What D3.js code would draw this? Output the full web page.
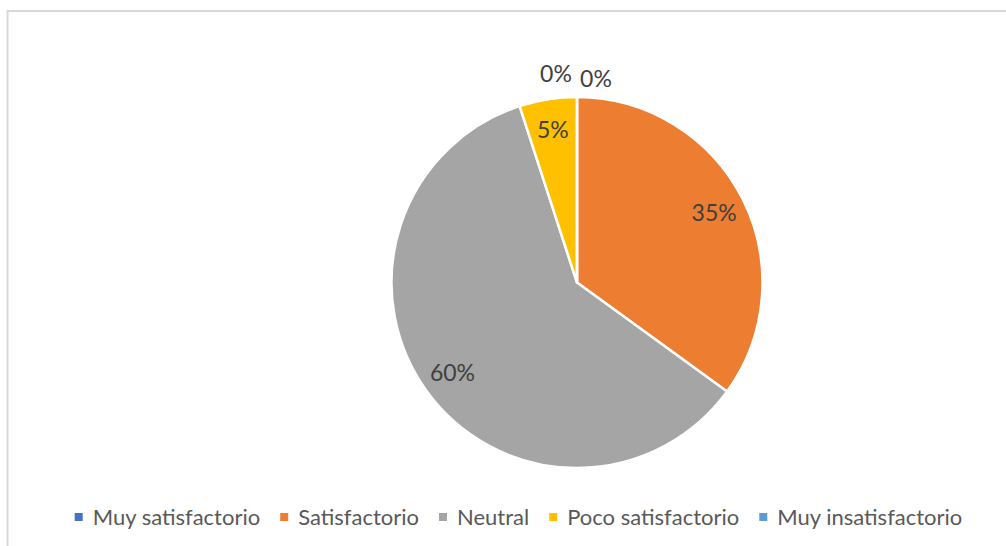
<!DOCTYPE html>
<html>
<head>
    <meta charset="UTF-8">
    <title></title>
    <style>
        body { margin: 0; background: #fff; }
        text { font-family: Lato, "Liberation Sans", sans-serif; }
    </style>
</head>
<body>
<div id="chart"></div>
<script src="https://cdn.jsdelivr.net/npm/d3@7"></script>
<script>
    var categories = ["Muy satisfactorio", "Satisfactorio", "Neutral", "Poco satisfactorio", "Muy insatisfactorio"];
    var values = [0, 35, 60, 5, 0];
    var labels = ["0%", "35%", "60%", "5%", "0%"];
    var colors = ["#4472C4", "#ED7D31", "#A5A5A5", "#FFC000", "#5B9BD5"];

    var width = 1006, height = 546;
    var cx = 577, cy = 282.5, r = 185.5;

    var svg = d3.select("#chart").append("svg")
        .attr("width", width)
        .attr("height", height);

    // chart frame
    svg.append("rect")
        .attr("x", 7.5).attr("y", 11)
        .attr("width", width + 20).attr("height", height + 20)
        .attr("fill", "none")
        .attr("stroke", "#d9d9d9")
        .attr("stroke-width", 2);

    var data = categories.map(function (c, i) {
        return {name: c, value: values[i], label: labels[i], color: colors[i]};
    });

    var pie = d3.pie().sort(null).value(function (d) { return d.value; });
    var arcs = pie(data);
    var arc = d3.arc().innerRadius(0).outerRadius(r);

    var g = svg.append("g").attr("transform", "translate(" + cx + "," + cy + ")");

    g.selectAll("path")
        .data(arcs)
        .join("path")
        .attr("d", arc)
        .attr("fill", function (d) { return d.data.color; })
        .attr("stroke", "#fff")
        .attr("stroke-width", 2.5)
        .attr("stroke-linejoin", "round");

    // data labels
    var inner = d3.arc().innerRadius(r * 0.83).outerRadius(r * 0.83);
    g.selectAll("text.lbl")
        .data(arcs)
        .join("text")
        .attr("class", "lbl")
        .attr("transform", function (d, i) {
            var p;
            if (d.value === 0) {
                var a = d.startAngle;
                var rr = r + 20;
                p = [Math.sin(a) * rr + (i === 0 ? 19 : -21), -Math.cos(a) * rr + (i === 0 ? 2 : -3)];
            } else {
                p = inner.centroid(d);
            }
            return "translate(" + p[0] + "," + p[1] + ")";
        })
        .attr("text-anchor", "middle")
        .attr("dy", "0.35em")
        .attr("fill", "#404040")
        .style("font-size", "23px")
        .text(function (d) { return d.data.label; });

    // legend
    var legend = svg.append("g");
    var items = legend.selectAll("g")
        .data(data)
        .join("g");
    items.append("rect")
        .attr("width", 8).attr("height", 8)
        .attr("y", -4)
        .attr("fill", function (d) { return d.color; });
    items.append("text")
        .attr("x", 18)
        .attr("dy", "0.35em")
        .attr("fill", "#595959")
        .style("font-size", "22px")
        .text(function (d) { return d.name; });

    var x = 0, pos = [];
    items.each(function () {
        var w = d3.select(this).select("text").node().getComputedTextLength();
        pos.push(x);
        x += 18 + w + 20;
    });
    var total = x - 20;
    var start = 518.5 - total / 2;
    items.attr("transform", function (d, i) {
        return "translate(" + (start + pos[i]) + ",517)";
    });
</script>
</body>
</html>
